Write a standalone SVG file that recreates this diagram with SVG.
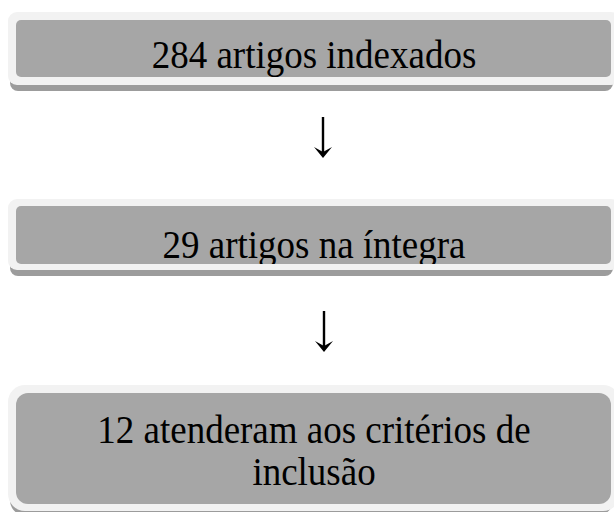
<svg xmlns="http://www.w3.org/2000/svg" width="614" height="512" viewBox="0 0 614 512">
<defs>
<style>
.shadow{fill:#9c9c9c}
.outer{fill:#f2f2f2}
.inner{fill:#a6a6a6}
.lbl{font-family:"Liberation Serif","Times New Roman",serif;font-size:37px;fill:#000;text-anchor:middle}
.arr line{stroke:#000;stroke-width:2.4}
.arr path{fill:#000}
</style>
<clipPath id="c1"><rect x="16" y="20" width="595" height="57" rx="5"/></clipPath>
<clipPath id="c2"><rect x="16" y="206" width="595" height="58" rx="5"/></clipPath>
<clipPath id="c3"><rect x="16" y="393" width="595" height="111" rx="12"/></clipPath>
</defs>
<rect width="614" height="512" fill="#fff"/>
<g id="node1">
<rect class="shadow" x="10" y="17" width="603" height="74" rx="8"/>
<rect class="outer" x="8" y="12" width="612" height="73" rx="9"/>
<rect class="inner" x="16" y="20" width="595" height="57" rx="5"/>
<g clip-path="url(#c1)"><text class="lbl" transform="translate(314,68) scale(1,1.07)">284 artigos indexados</text></g>
</g>
<g id="node2">
<rect class="shadow" x="10" y="204" width="603" height="72" rx="8"/>
<rect class="outer" x="8" y="199" width="612" height="71" rx="9"/>
<rect class="inner" x="16" y="206" width="595" height="58" rx="5"/>
<g clip-path="url(#c2)"><text class="lbl" transform="translate(314,258) scale(1,1.07)">29 artigos na íntegra</text></g>
</g>
<g id="node3">
<rect class="shadow" x="10" y="390" width="603" height="126" rx="16"/>
<rect class="outer" x="8" y="385" width="612" height="126" rx="17"/>
<rect class="inner" x="16" y="393" width="595" height="111" rx="12"/>
<g clip-path="url(#c3)"><text class="lbl" transform="translate(314,443) scale(1,1.07)"><tspan x="0" y="0">12 atenderam aos critérios de</tspan><tspan x="0" y="39">inclusão</tspan></text></g>
</g>
<g id="connectors" class="arr">
<line x1="323" y1="117" x2="323" y2="155"/>
<path d="M314,147 L323,158 L332,147 L323,152 Z"/>
<line x1="324" y1="311" x2="324" y2="349"/>
<path d="M315,341 L324,352 L333,341 L324,346 Z"/>
</g>
</svg>
